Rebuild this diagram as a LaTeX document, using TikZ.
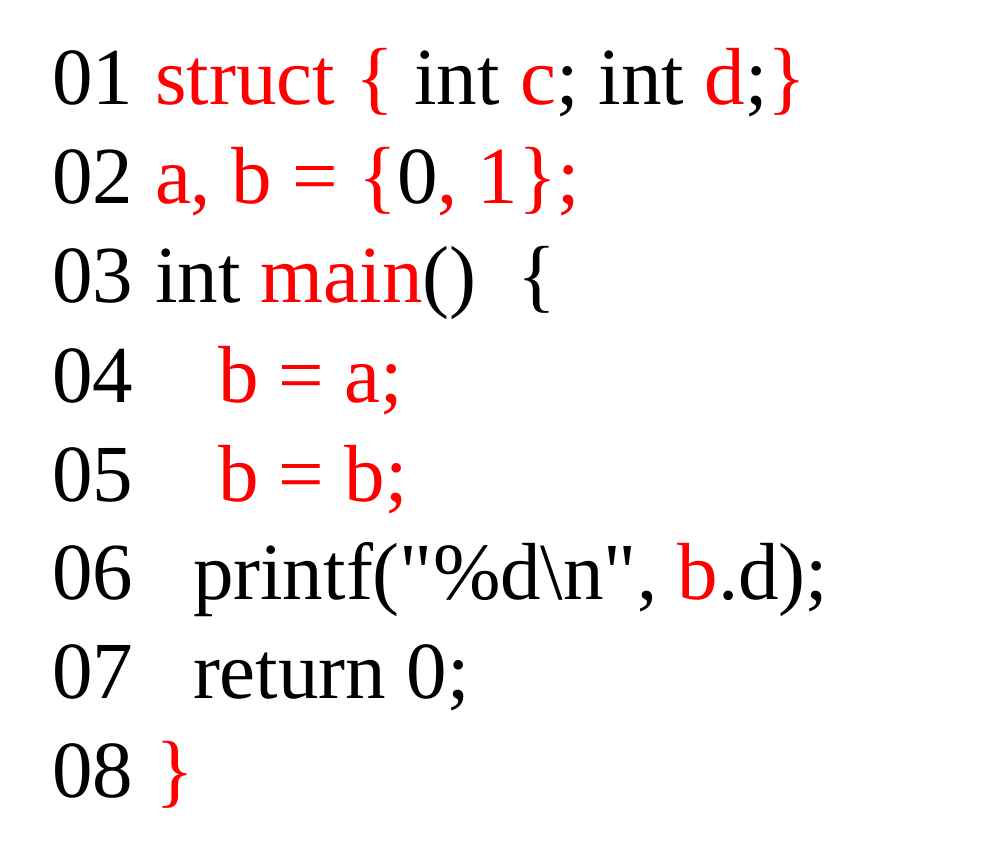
\documentclass[tikz,border=0pt]{standalone}
\usepackage{fontspec}
\setmainfont{Liberation Serif}
\newfontfamily\qfont{Liberation Serif}[Ligatures=TeXOff]
\definecolor{codered}{RGB}{255,0,0}
\newcommand{\rd}[1]{\textcolor{codered}{#1}}
\newcommand{\sq}{{\qfont"}}
\begin{document}
\begin{tikzpicture}[x=1pt,y=1pt,
  codetext/.style={anchor=base west,inner sep=0pt,outer sep=0pt,text=black,font=\fontsize{81}{99}\selectfont}]
\useasboundingbox (0,0) rectangle (983,867);
\node[codetext] (n1) at (52,762) {01};
\node[codetext] (c1) at (155,762) {\rd{struct \{} int \rd{c}; int \rd{d};\rd{\}}};
\node[codetext] (n2) at (52,663) {02};
\node[codetext] (c2) at (155,663) {\rd{a, b = \{}0\rd{, 1\};}};
\node[codetext] (n3) at (52,564) {03};
\node[codetext] (c3) at (155,564) {int \rd{main}()\ \ \{};
\node[codetext] (n4) at (52,464) {04};
\node[codetext] (c4) at (218,464) {\rd{b = a;}};
\node[codetext] (n5) at (52,365) {05};
\node[codetext] (c5) at (218,365) {\rd{b = b;}};
\node[codetext] (n6) at (52,267) {06};
\node[codetext] (c6) at (193,267) {printf(\sq\%d\textbackslash n\sq, \rd{b}.d);};
\node[codetext] (n7) at (52,168) {07};
\node[codetext] (c7) at (193,168) {return 0;};
\node[codetext] (n8) at (52,69) {08};
\node[codetext] (c8) at (155,69) {\rd{\}}};
\end{tikzpicture}
\end{document}
